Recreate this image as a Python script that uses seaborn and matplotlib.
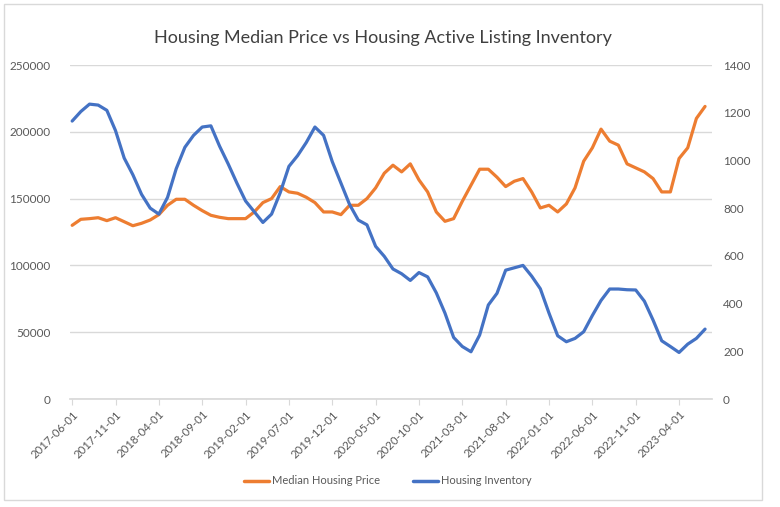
import matplotlib
matplotlib.use("Agg")
import matplotlib.pyplot as plt
import seaborn as sns
import pandas as pd
import numpy as np
from matplotlib.lines import Line2D
from matplotlib.patches import Rectangle

dates = pd.date_range("2017-06-01", "2023-07-01", freq="MS").strftime("%Y-%m-%d").tolist()

median_price = [
    130000, 134500, 135000, 135700, 133500, 135700, 132700, 129700, 131500, 134000,
    138000, 145000, 149500, 149500, 145000, 141000, 137500, 136000, 135000, 135000,
    135000, 140000, 147000, 150000, 159000, 155000, 154000, 151000, 147000, 140000,
    140000, 138000, 145000, 145000, 150000, 158000, 169000, 175000, 170000, 176000,
    164000, 155000, 140000, 133000, 135000, 148000, 160000, 172000, 172000, 166000,
    159000, 163000, 165000, 155000, 143000, 145000, 140000, 146000, 158000, 178000,
    188000, 202000, 193000, 190000, 176000, 173000, 170000, 165000, 155000, 155000,
    180000, 188000, 210000, 219000,
]

inventory = [
    1165, 1205, 1236, 1232, 1210, 1125, 1010, 940, 858, 800,
    775, 845, 965, 1055, 1105, 1140, 1145, 1060, 985, 905,
    830, 785, 740, 775, 865, 975, 1020, 1075, 1140, 1105,
    995, 905, 815, 750, 730, 640, 598, 545, 525, 497,
    530, 512, 445, 360, 258, 220, 198, 268, 394, 443,
    540, 550, 560, 515, 462, 360, 265, 240, 254, 282,
    350, 413, 461, 461, 458, 457, 410, 331, 244, 220,
    195, 230, 254, 293,
]

df = pd.DataFrame({"date": dates, "price": median_price, "inventory": inventory})
df["idx"] = np.arange(len(df))

sns.set_theme(style="white")
plt.rcParams["font.family"] = ["Lato", "DejaVu Sans"]

ORANGE = "#ED7D31"
BLUE = "#4472C4"
TXT = "#595959"
GRID = "#D9D9D9"

fig = plt.figure(figsize=(7.8, 5.07), dpi=100)
fig.patches.append(Rectangle((4 / 780, 1 - 500 / 507), 758 / 780, 496 / 507,
                             transform=fig.transFigure, fill=False,
                             edgecolor="#D9D9D9", linewidth=1.0))

ax = fig.add_axes([70 / 780, 1 - 399 / 507, 642 / 780, 334 / 507])
ax2 = ax.twinx()

sns.lineplot(data=df, x="idx", y="price", ax=ax, color=ORANGE, linewidth=2.3)
sns.lineplot(data=df, x="idx", y="inventory", ax=ax2, color=BLUE, linewidth=2.3)

ax.set_ylim(0, 250000)
ax2.set_ylim(0, 1400)
ax.set_yticks(np.arange(0, 250001, 50000))
ax2.set_yticks(np.arange(0, 1401, 200))
ax.set_xlim(-0.25, 73.8)

tick_idx = list(range(0, len(dates), 5))
ax.set_xticks(tick_idx)
ax.set_xticklabels([dates[i] for i in tick_idx], rotation=45, ha="right",
                   rotation_mode="anchor", fontsize=8.2, color=TXT)

for a in (ax, ax2):
    for s in a.spines.values():
        s.set_visible(False)
    a.set_xlabel("")
    a.set_ylabel("")

ax.spines["bottom"].set_visible(True)
ax.spines["bottom"].set_color(GRID)
ax.yaxis.grid(True, color=GRID, linewidth=1.0)
ax.set_axisbelow(True)
ax.tick_params(axis="y", length=0, labelsize=8.5, labelcolor=TXT, pad=14)
ax2.tick_params(axis="y", length=0, labelsize=8.5, labelcolor=TXT, pad=8)
ax.tick_params(axis="x", length=4, width=0.8, color=GRID, pad=3, bottom=True)
ax.set_yticklabels([f"{int(v)}" for v in ax.get_yticks()])
ax2.set_yticklabels([f"{int(v)}" for v in ax2.get_yticks()])

fig.text(383 / 780, 1 - 38 / 507, "Housing Median Price vs Housing Active Listing Inventory",
         ha="center", va="center", fontsize=13, color="#404040")

handles = [Line2D([0], [0], color=ORANGE, lw=2.5),
           Line2D([0], [0], color=BLUE, lw=2.5)]
fig.legend(handles, ["Median Housing Price", "Housing Inventory"],
           loc="center", bbox_to_anchor=(388 / 780, 1 - 481 / 507), ncol=2,
           frameon=False, fontsize=8, labelcolor=TXT, handlelength=2.2,
           columnspacing=3.0, handletextpad=0.3)

fig.savefig("out.png", dpi=100)
